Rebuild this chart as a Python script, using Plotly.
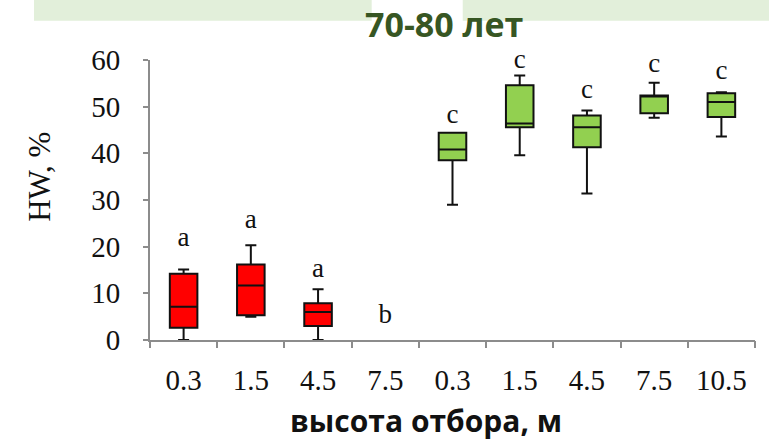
import plotly.graph_objects as go

# Sampling heights (two stands) and box statistics of HW, %
heights = ["0.3", "1.5", "4.5", "7.5", "0.3", "1.5", "4.5", "7.5", "10.5"]
positions = list(range(len(heights)))

red_x = [0, 1, 2]
red_low = [0.0, 5.0, 0.0]
red_q1 = [2.6, 5.3, 3.0]
red_med = [7.1, 11.7, 6.0]
red_q3 = [14.2, 16.2, 7.9]
red_high = [15.1, 20.3, 10.9]

green_x = [4, 5, 6, 7, 8]
green_low = [29.0, 39.6, 31.4, 47.6, 43.6]
green_q1 = [38.5, 45.6, 41.3, 48.6, 47.8]
green_med = [40.8, 46.4, 45.6, 52.2, 51.0]
green_q3 = [44.4, 54.6, 48.1, 52.4, 52.9]
green_high = [44.4, 56.7, 49.2, 55.1, 53.1]

# significance letters above each group
letters = ["a", "a", "a", "b", "c", "c", "c", "c", "c"]
letter_y = [21.6, 25.5, 14.9, 5.1, 48.0, 59.8, 53.4, 58.8, 57.4]

AXIS_GRAY = "#8c8c8c"
SERIF = "Liberation Serif"

fig = go.Figure()

def add_boxes(xs, lo, q1, med, q3, hi, fill):
    fig.add_trace(go.Box(
        x=xs, lowerfence=lo, q1=q1, median=med, q3=q3, upperfence=hi,
        fillcolor=fill, line=dict(color="#111111", width=2),
        width=0.41, whiskerwidth=0.4, boxpoints=False,
        showlegend=False, hoverinfo="skip",
    ))

add_boxes(red_x, red_low, red_q1, red_med, red_q3, red_high, "#ff0000")
add_boxes(green_x, green_low, green_q1, green_med, green_q3, green_high, "#92d050")

fig.add_trace(go.Scatter(
    x=positions, y=letter_y, text=letters, mode="text", xaxis="x2",
    textfont=dict(family=SERIF, size=27, color="#111111"),
    textposition="middle center", cliponaxis=False,
    showlegend=False, hoverinfo="skip",
))

fig.update_layout(
    width=769, height=443,
    margin=dict(l=150, r=14, t=60, b=103),
    paper_bgcolor="white", plot_bgcolor="white",
    xaxis=dict(
        range=[-0.5, 8.5], tickmode="array", tickvals=positions, ticktext=heights,
        ticks="", showline=True, linecolor=AXIS_GRAY, linewidth=2,
        showgrid=False, zeroline=False,
        tickfont=dict(family=SERIF, size=29, color="#111111"),
        ticklabelstandoff=13,
    ),
    xaxis2=dict(
        range=[-0.5, 8.5], overlaying="x", anchor="y", side="bottom",
        tickmode="array", tickvals=[p - 0.5 for p in positions] + [8.5],
        ticks="outside", ticklen=7, tickwidth=2, tickcolor=AXIS_GRAY,
        showticklabels=False, showline=False, showgrid=False, zeroline=False,
    ),
    yaxis=dict(
        range=[0, 60], tickmode="array", tickvals=[0, 10, 20, 30, 40, 50, 60],
        ticks="outside", ticklen=5, tickwidth=2, tickcolor=AXIS_GRAY,
        showline=True, linecolor=AXIS_GRAY, linewidth=2,
        showgrid=False, zeroline=False,
        tickfont=dict(family=SERIF, size=29, color="#111111"),
        ticklabelstandoff=17,
    ),
    shapes=[
        dict(type="rect", xref="paper", yref="paper", layer="below",
             x0=-0.1917, x1=0.3664, y0=1.1404, y1=1.25,
             fillcolor="#e2efda", line=dict(width=0)),
        dict(type="rect", xref="paper", yref="paper", layer="below",
             x0=0.5169, x1=1.03, y0=1.1404, y1=1.25,
             fillcolor="#e2efda", line=dict(width=0)),
    ],
    annotations=[
        dict(text="<b>70-80 лет</b>", xref="paper", yref="paper",
             x=0.486, y=1.1286, xanchor="center", yanchor="middle",
             showarrow=False, borderpad=0,
             font=dict(family="Open Sans", size=34, color="#375623")),
        dict(text="<b>высота отбора, м</b>", xref="paper", yref="paper",
             x=0.457, y=-0.289, xanchor="center", yanchor="middle",
             showarrow=False, borderpad=0,
             font=dict(family="Open Sans", size=30, color="#111111")),
        dict(text="HW, %", xref="paper", yref="paper",
             x=-0.1818, y=0.583, xanchor="center", yanchor="middle",
             textangle=-90, showarrow=False,
             font=dict(family=SERIF, size=31, color="#111111")),
    ],
)

fig.write_html("out.html")
